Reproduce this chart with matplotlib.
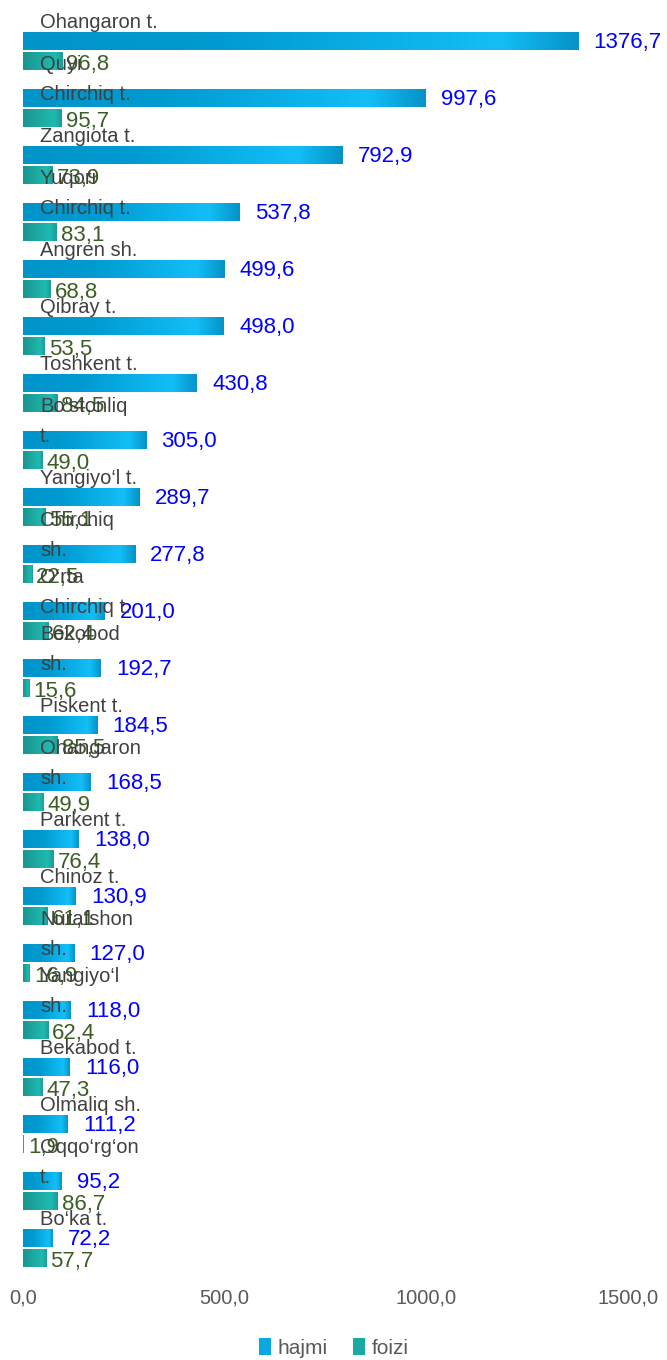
import matplotlib
matplotlib.use("Agg")
import matplotlib.pyplot as plt
import numpy as np
from matplotlib.colors import LinearSegmentedColormap
from matplotlib.patches import Patch
from matplotlib.ticker import FuncFormatter

plt.rcParams['font.family'] = ['Liberation Sans', 'DejaVu Sans']

# data
categories = ["Ohangaron t.", "Quyi\nChirchiq t.", "Zangiota t.", "Yuqori\nChirchiq t.",
              "Angren sh.", "Qibray t.", "Toshkent t.", "Bo\u2018stonliq\nt.",
              "Yangiyo\u2018l t.", "Chirchiq\nsh.", "O\u2018rta\nChirchiq t.", "Bekobod\nsh.",
              "Piskent t.", "Ohangaron\nsh.", "Parkent t.", "Chinoz t.", "Nurafshon\nsh.",
              "Yangiyo\u2018l\nsh.", "Bekabod t.", "Olmaliq sh.", "Oqqo\u2018rg\u2018on\nt.", "Bo\u2018ka t."]
hajmi = [1376.7, 997.6, 792.9, 537.8, 499.6, 498.0, 430.8, 305.0, 289.7, 277.8, 201.0,
         192.7, 184.5, 168.5, 138.0, 130.9, 127.0, 118.0, 116.0, 111.2, 95.2, 72.2]
foizi = [96.8, 95.7, 73.9, 83.1, 68.8, 53.5, 84.5, 49.0, 55.1, 22.5, 62.4,
         15.6, 85.5, 49.9, 76.4, 61.1, 16.9, 62.4, 47.3, 1.9, 86.7, 57.7]
series_names = ["hajmi", "foizi"]

W, H = 667, 1360
fig = plt.figure(figsize=(W / 100, H / 100), dpi=100)
ax = fig.add_axes([23 / W, 1 - 1276.5 / H, 605 / W, (1276.5 - 22.5) / H])

y = np.arange(len(categories))
bh = 0.31
off = 0.175

blue_cm = LinearSegmentedColormap.from_list(
    "b", [(0, "#0094c9"), (0.35, "#009bd1"), (0.86, "#13bef7"), (1.0, "#0593c7")])
teal_cm = LinearSegmentedColormap.from_list(
    "t", [(0, "#1a958f"), (0.8, "#1fbab1"), (1.0, "#1a9c96")])

b1 = ax.barh(y - off, hajmi, height=bh, color="#0aa8e0")
b2 = ax.barh(y + off, foizi, height=bh, color="#1aa9a3")

# gradient fill on top of each bar
grad = np.linspace(0, 1, 256).reshape(1, -1)
for bars, cm in ((b1, blue_cm), (b2, teal_cm)):
    for r in bars:
        x0, y0 = r.get_x(), r.get_y()
        ax.imshow(grad, cmap=cm, aspect="auto", interpolation="bilinear",
                  extent=[x0, x0 + r.get_width(), y0 + r.get_height(), y0], zorder=2)

ax.set_xlim(0, 1500)
ax.set_ylim(len(categories) - 0.5, -0.5)

fmt = lambda v: f"{v:.1f}".replace(".", ",")
for i in range(len(categories)):
    ax.text(hajmi[i] + 38, y[i] - off + 0.02, fmt(hajmi[i]), color="#0000ff",
            fontsize=16, va="center", ha="left", zorder=4)
    ax.text(foizi[i] + 10, y[i] + off + 0.07, fmt(foizi[i]), color="#3b5e25",
            fontsize=16, va="center", ha="left", zorder=4)
    ax.text(42, y[i] - 0.5, categories[i], color="#404040", fontsize=14.5,
            va="center", ha="left", linespacing=1.7, zorder=5)

ax.set_xticks([0, 500, 1000, 1500])
ax.xaxis.set_major_formatter(FuncFormatter(lambda v, p: fmt(v)))
ax.tick_params(axis="x", length=0, pad=9, labelsize=14.5, labelcolor="#595959")
ax.set_yticks([])
for s in ax.spines.values():
    s.set_visible(False)

handles = [Patch(facecolor="#0aa8e0"), Patch(facecolor="#1aa9a3")]
fig.legend(handles, series_names, loc="lower center", bbox_to_anchor=(0.5, -0.012),
           ncol=2, frameon=False, fontsize=15, handlelength=0.6, handleheight=0.9,
           handletextpad=0.3, columnspacing=1.2, labelcolor="#595959")

fig.savefig("out.png", dpi=100)
